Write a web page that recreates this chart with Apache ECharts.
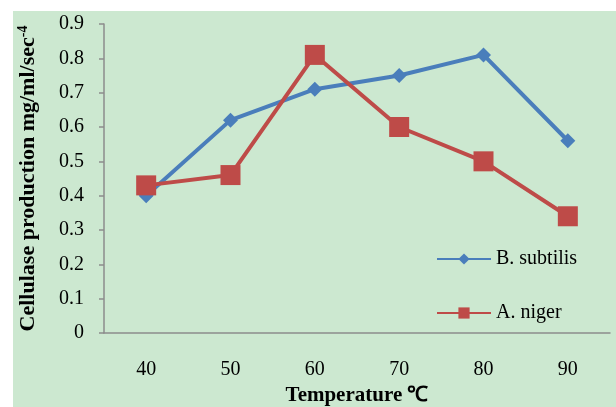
<!DOCTYPE html>
<html>
<head>
<meta charset="utf-8">
<script src="https://cdn.jsdelivr.net/npm/echarts@6/dist/echarts.min.js"></script>
<style>
  html, body { margin: 0; padding: 0; background: #ffffff; }
  .chartBox { position: absolute; left: 13px; top: 11px; width: 603px; height: 396px; background: #cce8d0; }
  #chart { position: absolute; left: 0; top: 0; width: 616px; height: 407px; }
</style>
</head>
<body>
<div class="chartBox"></div>
<div id="chart"></div>
<script>
// temperature categories
const temps = ["40", "50", "60", "70", "80", "90"];
// cellulase production values
const bSubtilis = [0.40, 0.62, 0.71, 0.75, 0.81, 0.56];
const aNiger = [0.43, 0.46, 0.81, 0.60, 0.50, 0.34];

const font = "'Liberation Serif', 'Times New Roman', serif";
let myChart = echarts.init(document.getElementById("chart"));
let option = {
  textStyle: { fontFamily: font },
  legend: {
    orient: "vertical",
    left: 431,
    top: 244,
    itemGap: 34,
    itemWidth: 54,
    itemHeight: 14,
    textStyle: { fontFamily: font, fontSize: 20, color: "#000" },
    data: ["B. subtilis", "A. niger"]
  },
  grid: { left: 104, right: 6, top: 24, bottom: 74, containLabel: false, outerBoundsMode: "none" },
  xAxis: {
    type: "category",
    data: temps,
    name: "Temperature ℃",
    nameLocation: "middle",
    nameGap: 48,
    nameTextStyle: { fontFamily: font, fontSize: 21, fontWeight: "bold", color: "#000" },
    axisLine: { lineStyle: { color: "#8c8c8c", width: 1.5 } },
    axisTick: { show: false },
    axisLabel: { fontFamily: font, fontSize: 20, color: "#000", margin: 27 }
  },
  yAxis: {
    type: "value",
    min: 0,
    max: 0.9,
    interval: 0.1,
    name: "Cellulase production mg/ml/sec{sup|-4}",
    nameLocation: "middle",
    nameGap: 64,
    nameTextStyle: {
      fontFamily: font, fontSize: 22, fontWeight: "bold", color: "#000",
      rich: { sup: { fontSize: 14, fontWeight: "bold", verticalAlign: "top", padding: [0, 0, 10, 0], fontFamily: font } }
    },
    axisLine: { show: true, lineStyle: { color: "#8c8c8c", width: 1.5 } },
    axisTick: { show: true, length: 5, lineStyle: { color: "#8c8c8c", width: 1.5 } },
    splitLine: { show: false },
    axisLabel: {
      fontFamily: font, fontSize: 20, color: "#000", margin: 20,
      formatter: v => (Math.round(v * 10) / 10).toString()
    }
  },
  series: [
    {
      name: "B. subtilis",
      type: "line",
      data: bSubtilis,
      symbol: "diamond",
      symbolSize: 15,
      color: "#4a7ebb",
      lineStyle: { width: 4 }
    },
    {
      name: "A. niger",
      type: "line",
      data: aNiger,
      symbol: "rect",
      symbolSize: 20,
      color: "#be4b48",
      lineStyle: { width: 4 }
    }
  ]
};
myChart.setOption(option, true);
</script>
</body>
</html>
